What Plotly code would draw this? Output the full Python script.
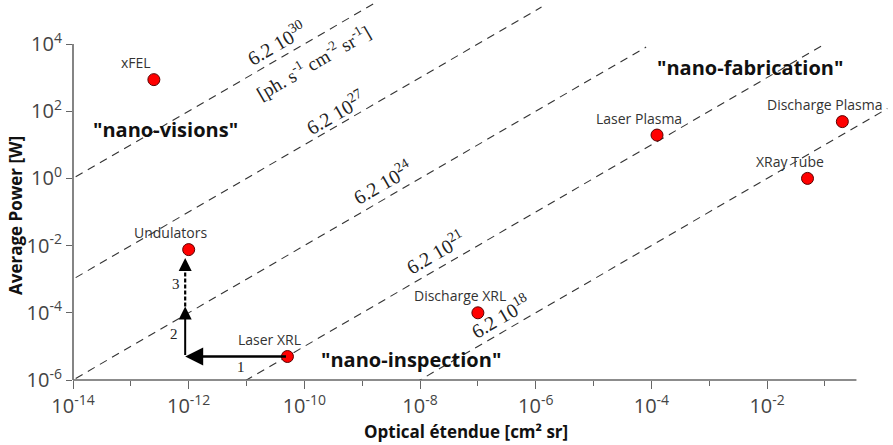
import math
import plotly.graph_objects as go

# ---- data -------------------------------------------------------------
sources = ["xFEL", "Undulators", "Laser XRL", "Discharge XRL",
           "Laser Plasma", "Discharge Plasma", "XRay Tube"]
etendue_cm2sr = [2.5e-13, 1.0e-12, 5.1e-11, 1.0e-7, 1.25e-4, 0.2, 0.05]
power_w = [870.0, 7.6e-3, 5.0e-6, 1.0e-4, 19.5, 49.0, 1.0]

# iso-brightness lines [ph. s^-1 cm^-2 sr^-1]
brightness = [6.2e30, 6.2e27, 6.2e24, 6.2e21, 6.2e18]
line_end_etendue = [1.6e-9, 1.26e-6, 8.1e-5, 0.087, 1.2]
PHOTONS_PER_JOULE = 6.2e16  # ~100 eV photons

# path from Laser XRL towards the undulator regime
path_etendue = [5.1e-11, 8.7e-13, 8.7e-13, 8.7e-13]
path_power = [5.0e-6, 5.0e-6, 1.55e-4, 4.3e-3]
path_labels = ["1", "2", "3"]

x_major = [1e-14, 1e-12, 1e-10, 1e-8, 1e-6, 1e-4, 1e-2]
x_minor = [1e-13, 1e-11, 1e-9, 1e-7, 1e-5, 1e-3, 1e-1]
x_ticktext = ["10<sup>-14</sup>", "10<sup>-12</sup>", "10<sup>-10</sup>",
              "10<sup>-8</sup>", "10<sup>-6</sup>", "10<sup>-4</sup>",
              "10<sup>-2</sup>"]
y_major = [1e-6, 1e-4, 1e-2, 1e0, 1e2, 1e4]
y_ticktext = ["10<sup>-6</sup>", "10<sup>-4</sup>", "10<sup>-2</sup>",
              "10<sup>0</sup>", "10<sup>2</sup>", "10<sup>4</sup>"]

# ---- layout geometry --------------------------------------------------
W, H = 893, 445
ML, MR, MT, MB = 73, 3, 0, 65
X_RANGE = [-14.0, -14.0 + (W - ML - MR) / 57.84]
Y_RANGE = [-6.0, -6.0 + (H - MT - MB) / 33.6]
AXIS_X_END = 10 ** -0.455
AXIS_Y_END = 1e4

SANS = "Open Sans"
SERIF = "Liberation Serif"

fig = go.Figure()

# iso-brightness dashed lines P = B / (photons per J) * E
for b, e_end in zip(brightness, line_end_etendue):
    c = b / PHOTONS_PER_JOULE
    xs = [1e-15, e_end]
    fig.add_trace(go.Scatter(
        x=xs, y=[c * v for v in xs], mode="lines",
        line=dict(color="#333333", width=1.1, dash="8px,6px"),
        hoverinfo="skip", showlegend=False))

# dashed third leg of the path
fig.add_trace(go.Scatter(
    x=path_etendue[2:4], y=[path_power[2], path_power[3] * 0.8],
    mode="lines", line=dict(color="black", width=2.2, dash="4px,2px"),
    hoverinfo="skip", showlegend=False))

# sources
fig.add_trace(go.Scatter(
    x=etendue_cm2sr, y=power_w, mode="markers",
    marker=dict(size=12, color="#ff0000",
                line=dict(color="#5a0000", width=1)),
    hoverinfo="text", text=sources, showlegend=False, cliponaxis=False))

ann = []
lg = math.log10

# source names
for name, e, p in zip(sources, etendue_cm2sr, power_w):
    ann.append(dict(x=lg(e), y=lg(p), xref="x", yref="y", text=name,
                    showarrow=False, xshift=-18, yshift=17,
                    font=dict(family=SANS, size=14, color="#333333")))

# brightness labels along the lines
angle = -math.degrees(math.atan(33.6 / 57.84))
label_pos = [-10.495, -9.463, -8.658, -7.747, -6.623]
label_shift = [18, 15, 19, 19, 18]
for b, lx, sh in zip(brightness, label_pos, label_shift):
    c = b / PHOTONS_PER_JOULE
    mant, ex = f"{b:.1e}".split("e")
    ann.append(dict(x=lx, y=lg(c) + lx, xref="x", yref="y",
                    text=f"{mant} 10<sup>{int(ex)}</sup>", showarrow=False,
                    yshift=sh, textangle=angle,
                    font=dict(family=SERIF, size=20, color="#222222")))
ux = -9.855
ann.append(dict(x=ux, y=lg(brightness[0] / PHOTONS_PER_JOULE) + ux,
                xref="x", yref="y",
                text="[ph. s<sup>-1</sup> cm<sup>-2</sup> sr<sup>-1</sup>]",
                showarrow=False, yshift=-23, textangle=angle,
                font=dict(family=SERIF, size=19, color="#222222")))

# regime labels
for txt, lx, ly in [('"nano-visions"', -12.397, 1.45),
                    ('"nano-fabrication"', -2.30, 3.295),
                    ('"nano-inspection"', -8.15, -5.375)]:
    ann.append(dict(x=lx, y=ly, xref="x", yref="y", text=f"<b>{txt}</b>",
                    showarrow=False,
                    font=dict(family=SANS, size=20, color="#111111")))

# path arrows
ann.append(dict(x=lg(path_etendue[1]), y=lg(path_power[1]),
                ax=lg(path_etendue[0]), ay=lg(path_power[0]),
                xref="x", yref="y", axref="x", ayref="y", text="",
                showarrow=True, arrowhead=2, arrowsize=1.5, arrowwidth=2.4,
                arrowcolor="black"))
ann.append(dict(x=lg(path_etendue[2]), y=lg(path_power[2]),
                ax=lg(path_etendue[1]), ay=lg(path_power[1]),
                xref="x", yref="y", axref="x", ayref="y", text="",
                showarrow=True, arrowhead=2, arrowsize=1.3, arrowwidth=2,
                arrowcolor="black"))
ann.append(dict(x=lg(path_etendue[3]), y=lg(path_power[3]),
                ax=0, ay=12, text="", showarrow=True, arrowhead=2,
                arrowsize=1.3, arrowwidth=2, arrowcolor="black"))
for txt, lx, ly in zip(path_labels, [-11.10, -12.254, -12.224],
                       [-5.625, -4.622, -3.143]):
    ann.append(dict(x=lx, y=ly, xref="x", yref="y", text=txt,
                    showarrow=False,
                    font=dict(family=SERIF, size=15, color="#222222")))

# axis titles
ann.append(dict(x=0.5, xref="paper", y=0, yref="paper", yshift=-51,
                xshift=-16, xanchor="center", yanchor="middle",
                text="<b>Optical étendue [cm² sr]</b>", showarrow=False,
                font=dict(family=SANS, size=17, color="#111111")))
ann.append(dict(x=0, xref="paper", y=(lg(AXIS_Y_END) - Y_RANGE[0]) /
                (Y_RANGE[1] - Y_RANGE[0]) / 2, yref="paper",
                xshift=-57, yshift=-4, textangle=-90, xanchor="center",
                yanchor="middle", text="<b>Average Power [W]</b>",
                showarrow=False,
                font=dict(family=SANS, size=17, color="#111111")))

# axis lines limited to the labelled span
fx_end = (lg(AXIS_X_END) - X_RANGE[0]) / (X_RANGE[1] - X_RANGE[0])
fy_end = (lg(AXIS_Y_END) - Y_RANGE[0]) / (Y_RANGE[1] - Y_RANGE[0])
shapes = [
    dict(type="line", xref="paper", yref="paper", x0=0, x1=fx_end,
         y0=0, y1=0, line=dict(color="#666666", width=1.6)),
    dict(type="line", xref="paper", yref="paper", x0=0, x1=0,
         y0=0, y1=fy_end, line=dict(color="#666666", width=1.6)),
]

fig.update_layout(
    width=W, height=H,
    margin=dict(l=ML, r=MR, t=MT, b=MB),
    paper_bgcolor="white", plot_bgcolor="white",
    annotations=ann, shapes=shapes,
    xaxis=dict(type="log", range=X_RANGE, showgrid=False, zeroline=False,
               showline=False, tickmode="array", tickvals=x_major,
               ticktext=x_ticktext, ticks="outside", ticklen=8,
               tickwidth=1.3, tickcolor="#666666",
               tickfont=dict(family=SANS, size=20, color="#444444"),
               minor=dict(tickvals=x_minor, ticks="outside", ticklen=5,
                          tickwidth=1.3, tickcolor="#666666",
                          showgrid=False)),
    yaxis=dict(type="log", range=Y_RANGE, showgrid=False, zeroline=False,
               showline=False, tickmode="array", tickvals=y_major,
               ticktext=y_ticktext, ticks="outside", ticklen=6,
               tickwidth=1.3, tickcolor="#666666",
               tickfont=dict(family=SANS, size=20, color="#444444")),
)

fig.write_html("out.html")
